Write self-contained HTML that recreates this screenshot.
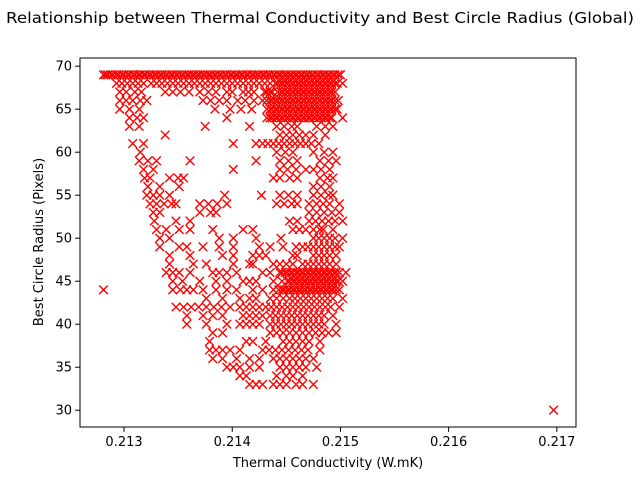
<!DOCTYPE html>
<html><head><meta charset="utf-8"><style>
html,body{margin:0;padding:0;background:#fff;}
svg{display:block;font-family:"DejaVu Sans","Liberation Sans",sans-serif;}
</style></head><body>
<svg id="chart" width="640" height="480" viewBox="0 0 640 480" xmlns="http://www.w3.org/2000/svg">
<rect x="0" y="0" width="640" height="480" fill="#fff"/>
<text x="320" y="23" text-anchor="middle" font-size="15.5" textLength="628" lengthAdjust="spacingAndGlyphs">Relationship between Thermal Conductivity and Best Circle Radius (Global)</text>
<g id="marks"></g>
<g id="axes"></g>
<text x="328" y="467" text-anchor="middle" font-size="13">Thermal Conductivity (W.mK)</text>
<text x="0" y="0" transform="translate(43,242) rotate(-90)" text-anchor="middle" font-size="13">Best Circle Radius (Pixels)</text>
</svg>
<script>
const rowY = [69,68,67,66,65,64,63,62,61,60,59,58,57,56,55,54,53,52,51,50,49,48,47,46,45,44,43,42,41,40,39,38,37,36,35,34,33,30,69,68,67,66,65,64,46,45,44];
const rowX = [
[0.21281,0.21285,0.2129,0.21295,0.213,0.21305,0.2131,0.21315,0.2132,0.21325,0.2133,0.21335,0.2134,0.21345,0.2135,0.21355,0.2136,0.21365,0.2137,0.21375,0.2138,0.21385,0.2139,0.21395,0.214,0.21405,0.2141,0.21415,0.2142,0.21425,0.2143,0.21435,0.2144,0.21445,0.2145,0.21455,0.2146,0.21465,0.2147,0.21475,0.2148,0.21485,0.2149,0.21495,0.215],
[0.21293,0.21298,0.21303,0.21308,0.21313,0.21318,0.21325,0.2133,0.2134,0.21345,0.2135,0.2136,0.21365,0.2137,0.2138,0.21385,0.2139,0.214,0.21405,0.2141,0.2142,0.21425,0.2143,0.2144,0.21445,0.2145,0.21455,0.2146,0.21465,0.2147,0.21475,0.2148,0.21485,0.2149,0.21495,0.21502],
[0.21296,0.21302,0.2131,0.21316,0.21338,0.21345,0.21352,0.2136,0.2137,0.21378,0.21385,0.21395,0.214,0.2141,0.21415,0.2142,0.2143,0.21435,0.21442,0.21445,0.2145,0.21455,0.2146,0.21465,0.2147,0.21475,0.2148,0.21485,0.2149,0.21495],
[0.21296,0.21302,0.21308,0.21315,0.21321,0.21373,0.2138,0.21388,0.21395,0.21405,0.21412,0.2142,0.21428,0.21432,0.21437,0.21442,0.21447,0.21452,0.21457,0.21462,0.21467,0.21472,0.21477,0.21482,0.21487,0.21492,0.21498],
[0.21296,0.21305,0.21314,0.21384,0.21398,0.21408,0.21418,0.21432,0.21437,0.21442,0.21447,0.21452,0.21457,0.21462,0.21467,0.21472,0.21477,0.21482,0.21487,0.21492,0.21497],
[0.21305,0.21312,0.21318,0.21395,0.21432,0.21437,0.21442,0.21447,0.21452,0.21457,0.21462,0.21467,0.21472,0.21477,0.21482,0.21487,0.21492,0.21502],
[0.21305,0.21314,0.21375,0.21416,0.21441,0.21448,0.21455,0.2146,0.21478,0.21486,0.21493],
[0.21338,0.21444,0.2145,0.21456,0.21462,0.21468,0.21475,0.21486],
[0.21308,0.21318,0.21401,0.21422,0.21428,0.21433,0.21438,0.21443,0.21448,0.21453,0.21458,0.21463,0.21468,0.21473,0.2148],
[0.21315,0.21441,0.21449,0.21456,0.21475,0.21485,0.21493],
[0.21314,0.21322,0.2133,0.21361,0.21422,0.21444,0.21452,0.2146,0.21481,0.21489,0.21496],
[0.21318,0.21327,0.21401,0.21444,0.21451,0.21459,0.21468,0.21475,0.21482,0.2149],
[0.21319,0.21324,0.21342,0.2135,0.21355,0.21438,0.21444,0.21453,0.2146,0.21481,0.21488,0.21493],
[0.21322,0.21333,0.21351,0.21475,0.21482,0.2149],
[0.21321,0.21327,0.21333,0.21342,0.21393,0.21427,0.21444,0.21452,0.2146,0.21475,0.21482,0.21489,0.21493],
[0.21324,0.2133,0.21337,0.21344,0.21348,0.2137,0.21378,0.21386,0.21395,0.21441,0.21448,0.21455,0.2146,0.21471,0.21478,0.21484,0.2149,0.21499],
[0.21327,0.21333,0.2137,0.2138,0.21385,0.21471,0.21478,0.21485,0.21492,0.21499],
[0.21328,0.21348,0.21361,0.21453,0.2146,0.21471,0.21477,0.21483,0.21489,0.21495,0.21502],
[0.2133,0.21339,0.21351,0.21361,0.21382,0.2141,0.21419,0.21456,0.21462,0.21468,0.21475,0.21481,0.21484,0.21493],
[0.21333,0.21342,0.21388,0.21401,0.21422,0.21445,0.21475,0.2148,0.21485,0.2149,0.21495,0.21502],
[0.21333,0.21351,0.21358,0.21373,0.21388,0.21401,0.21425,0.21435,0.21447,0.21459,0.21465,0.2147,0.21475,0.2148,0.21485,0.2149,0.21495,0.21499],
[0.21342,0.21361,0.21391,0.21401,0.21419,0.21425,0.21431,0.21456,0.2146,0.21475,0.2148,0.21485,0.2149,0.21496],
[0.21342,0.21364,0.21376,0.21401,0.21416,0.21419,0.21438,0.21444,0.2145,0.21456,0.21465,0.2147,0.21475,0.2148,0.21485,0.2149,0.21496],
[0.21339,0.21345,0.21351,0.21361,0.21382,0.21388,0.21395,0.21404,0.21428,0.21435,0.21444,0.21449,0.21454,0.21459,0.21464,0.21469,0.21474,0.21479,0.21484,0.21489,0.21494,0.21499,0.21505],
[0.21345,0.21354,0.2137,0.21385,0.21395,0.2141,0.21416,0.21422,0.21438,0.21453,0.21458,0.21463,0.21468,0.21473,0.21478,0.21483,0.21488,0.21493,0.21498,0.21502],
[0.21281,0.21345,0.21352,0.21358,0.21364,0.21373,0.21385,0.21395,0.21404,0.21419,0.21428,0.21438,0.21443,0.21448,0.21453,0.21458,0.21463,0.21468,0.21473,0.21478,0.21483,0.21488,0.21493,0.21499],
[0.21376,0.21391,0.21407,0.21416,0.21422,0.21435,0.21441,0.21447,0.21453,0.21458,0.21463,0.21468,0.21473,0.21478,0.21483,0.21488,0.21493,0.21502],
[0.21348,0.21355,0.21362,0.21369,0.21376,0.21383,0.2139,0.21398,0.21407,0.21413,0.21419,0.21425,0.21431,0.21436,0.21441,0.21446,0.21451,0.21456,0.21461,0.21466,0.21471,0.21476,0.21481,0.21486,0.21491,0.21499],
[0.21358,0.21373,0.21382,0.21391,0.2141,0.21416,0.21422,0.21428,0.21435,0.2144,0.21445,0.2145,0.21455,0.2146,0.21465,0.2147,0.21475,0.2148,0.21485,0.21493],
[0.21358,0.21376,0.21395,0.21407,0.21413,0.21419,0.21425,0.21435,0.2144,0.21445,0.2145,0.21455,0.2146,0.21465,0.2147,0.21475,0.2148,0.21485,0.21496],
[0.21382,0.21391,0.21435,0.21441,0.21447,0.21453,0.21459,0.21465,0.21471,0.21477,0.21483,0.21489,0.21496],
[0.21379,0.21413,0.21419,0.21431,0.21447,0.21453,0.21459,0.21465,0.21471,0.21481],
[0.21379,0.21385,0.21391,0.21398,0.21407,0.21428,0.21434,0.2144,0.21446,0.21452,0.21458,0.21464,0.2147,0.21481],
[0.21382,0.21391,0.21404,0.21416,0.21425,0.21438,0.21444,0.2145,0.21456,0.21462,0.21468,0.21475],
[0.21395,0.21401,0.21407,0.21416,0.21425,0.21444,0.2145,0.21456,0.21462,0.21468,0.21478],
[0.21407,0.21413,0.21441,0.2145,0.21456,0.21465],
[0.21416,0.21422,0.21428,0.21438,0.21444,0.2145,0.21459,0.21465,0.21475],
[0.21697],
[0.21283,0.21288,0.21293,0.21298,0.21303,0.21308,0.21313,0.21318,0.21323,0.21328,0.21333,0.21338,0.21343,0.21348,0.21353,0.21358,0.21363,0.21368,0.21373,0.21378,0.21383,0.21388,0.21393,0.21398,0.21403,0.21408,0.21413,0.21418,0.21423,0.21428,0.21433,0.21438,0.21443,0.21448,0.21453,0.21458,0.21463,0.21468,0.21473,0.21478,0.21483,0.21488,0.21493,0.21498],
[0.21335,0.21355,0.21375,0.21395,0.21415,0.21435,0.21442,0.21447,0.21452,0.21457,0.21462,0.21467,0.21472,0.21477,0.21482,0.21487,0.21492,0.21497],
[0.21432,0.21437,0.21447,0.21452,0.21457,0.21462,0.21467,0.21472,0.21477,0.21482,0.21487,0.21492],
[0.21435,0.2144,0.21445,0.2145,0.21455,0.2146,0.21465,0.2147,0.21475,0.2148,0.21485,0.2149,0.21495],
[0.21435,0.2144,0.21445,0.2145,0.21455,0.2146,0.21465,0.2147,0.21475,0.2148,0.21485,0.2149,0.21495],
[0.21435,0.2144,0.21445,0.2145,0.21455,0.2146,0.21465,0.2147,0.21475,0.2148,0.21485,0.2149],
[0.21446,0.21451,0.21456,0.21461,0.21466,0.21471,0.21476,0.21481,0.21486,0.21491,0.21496],
[0.21446,0.21451,0.21456,0.21461,0.21466,0.21471,0.21476,0.21481,0.21486,0.21491,0.21496],
[0.21446,0.21451,0.21456,0.21461,0.21466,0.21471,0.21476,0.21481,0.21486,0.21491,0.21496]
];
const xTicks = [0.213,0.214,0.215,0.216,0.217];
const xTickLabels = ["0.213","0.214","0.215","0.216","0.217"];
const yTicks = [30,35,40,45,50,55,60,65,70];
const yTickLabels = ["30","35","40","45","50","55","60","65","70"];

const NS = "http://www.w3.org/2000/svg";
const L = 80, R = 576, T = 58, B = 427;
const xMin = 0.212593, xMax = 0.217177, yMin = 28.05, yMax = 70.95;
function sx(v){ return L + (v - xMin) / (xMax - xMin) * (R - L); }
function sy(v){ return B - (v - yMin) / (yMax - yMin) * (B - T); }
function mk(tag, attrs){ const e = document.createElementNS(NS, tag); for (const k in attrs) e.setAttribute(k, attrs[k]); return e; }

const marks = document.getElementById('marks');
const h = 4.3;
rowY.forEach((yv, i) => {
  rowX[i].forEach(xv => {
    const cx = sx(xv), cy = sy(yv);
    const p = mk('path', {d: `M${cx-h},${cy-h}L${cx+h},${cy+h}M${cx-h},${cy+h}L${cx+h},${cy-h}`, stroke: '#ff0000', 'stroke-width': 1.4, fill: 'none'});
    
    
    marks.appendChild(p);
  });
});

const axes = document.getElementById('axes');
const frame = mk('rect', {x: L, y: T, width: R - L, height: B - T, fill: 'none', stroke: '#000', 'stroke-width': 1});


axes.appendChild(frame);
xTicks.forEach((t, i) => {
  const x = sx(t);
  const tk = mk('line', {x1: x, x2: x, y1: B, y2: B + 4.9, stroke: '#000', 'stroke-width': 1});
  
  
  axes.appendChild(tk);
  const tx = mk('text', {x: x, y: B + 19, 'text-anchor': 'middle', 'font-size': 13});
  tx.textContent = xTickLabels[i];
  
  
  axes.appendChild(tx);
});
yTicks.forEach((t, i) => {
  const y = sy(t);
  const tk = mk('line', {x1: L - 4.9, x2: L, y1: y, y2: y, stroke: '#000', 'stroke-width': 1});
  
  
  axes.appendChild(tk);
  const tx = mk('text', {x: L - 8, y: y + 4.5, 'text-anchor': 'end', 'font-size': 13});
  tx.textContent = yTickLabels[i];
  
  
  axes.appendChild(tx);
});
</script>
</body></html>
